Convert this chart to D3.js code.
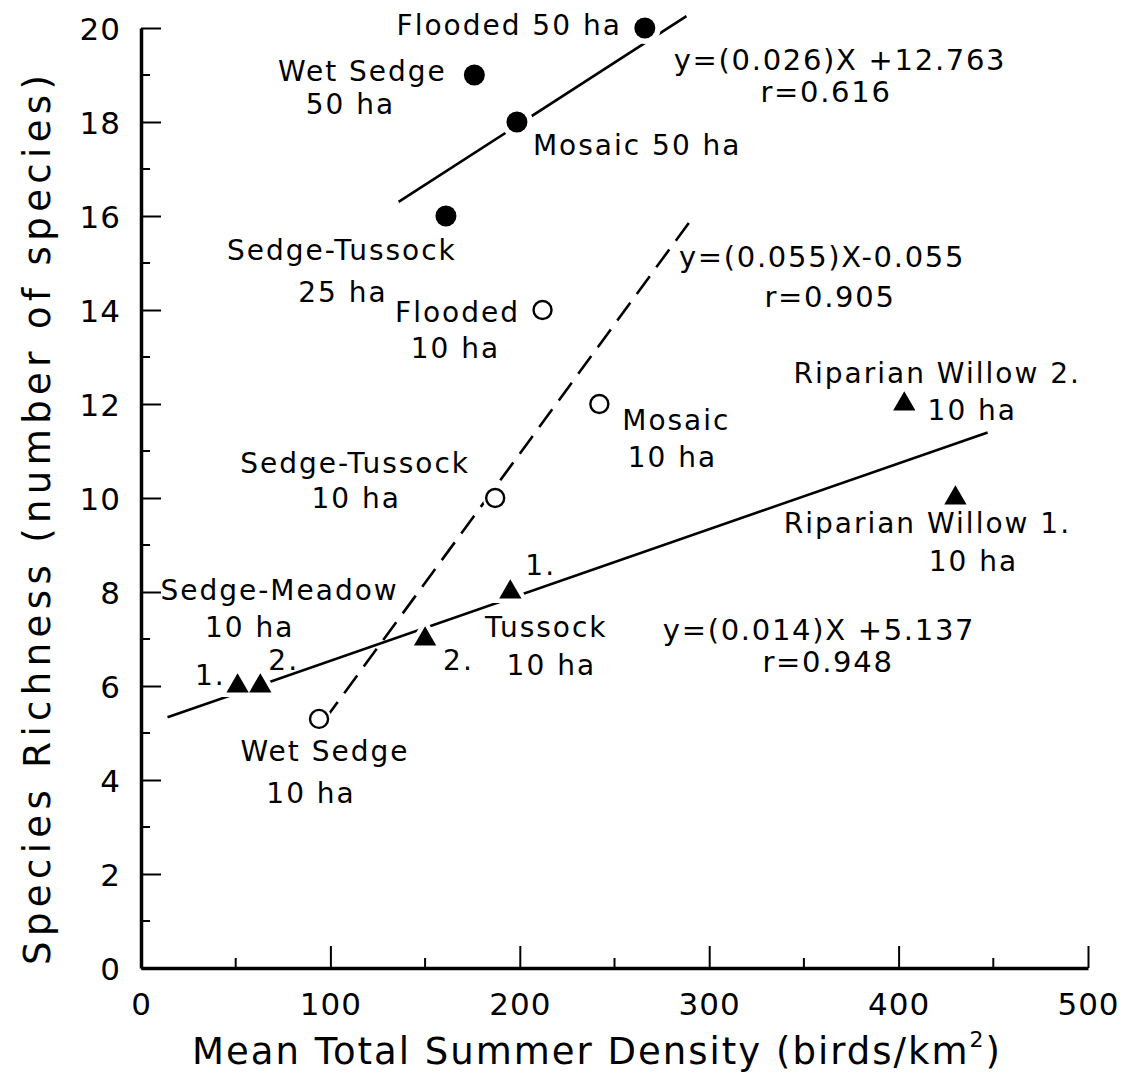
<!DOCTYPE html>
<html>
<head>
<meta charset="utf-8">
<script src="https://cdn.jsdelivr.net/npm/d3@7"></script>
<style>
  html, body { margin: 0; padding: 0; background: #fff; }
  svg { display: block; }
  text { font-family: "DejaVu Sans", sans-serif; fill: #000; }
</style>
</head>
<body>
<script>
// Study sites sampled at 50 ha (and one at 25 ha): filled circles
const largePlotSites = ["Flooded 50 ha", "Wet Sedge 50 ha", "Mosaic 50 ha", "Sedge-Tussock 25 ha"];
const largePlotDensity = [266, 176, 198.5, 161];
const largePlotRichness = [20, 19, 18, 16];

// Sites sampled at 10 ha: open circles
const smallPlotSites = ["Flooded 10 ha", "Mosaic 10 ha", "Sedge-Tussock 10 ha", "Wet Sedge 10 ha"];
const smallPlotDensity = [212, 242, 187, 94];
const smallPlotRichness = [14, 12, 10, 5.3];

// Paired 10 ha plots: filled triangles
const pairedSites = ["Sedge-Meadow 1", "Sedge-Meadow 2", "Tussock 2", "Tussock 1", "Riparian Willow 2", "Riparian Willow 1"];
const pairedDensity = [51, 63, 150, 195, 403, 430];
const pairedRichness = [6, 6, 7, 8, 12, 10];

// Regression fits, one per group
const fitSlopes = [0.026, 0.055, 0.014];
const fitIntercepts = [12.763, -0.055, 5.137];
const fitR = [0.616, 0.905, 0.948];
const fitXFrom = [136, 97, 14];
const fitXTo = [288, 292, 447];
const fitEquations = ["y=(0.026)X +12.763", "y=(0.055)X-0.055", "y=(0.014)X +5.137"];
const fitRLabels = ["r=0.616", "r=0.905", "r=0.948"];

// Axis ticks
const xMajorTicks = [0, 100, 200, 300, 400, 500];
const xMinorTicks = [50, 150, 250, 350, 450];
const yMajorTicks = [0, 2, 4, 6, 8, 10, 12, 14, 16, 18, 20];
const yMinorTicks = [1, 3, 5, 7, 9, 11, 13, 15, 17, 19];

const W = 1143, H = 1078;
const x = d3.scaleLinear().domain([0, 500]).range([141, 1088]);
const y = d3.scaleLinear().domain([0, 20]).range([968, 28]);

const svg = d3.select("body").append("svg").attr("width", W).attr("height", H);

// ---- axes ----
const xAxisG = svg.append("g").attr("transform", `translate(0,${y(0)})`);
xAxisG.call(d3.axisBottom(x).tickValues(xMajorTicks).tickSizeInner(-22).tickSizeOuter(0)
  .tickPadding(25).tickFormat(d3.format("d")));
xAxisG.call(g => g.selectAll(".minor").data(xMinorTicks).join("line").attr("class", "minor")
  .attr("x1", d => x(d)).attr("x2", d => x(d)).attr("y1", 0).attr("y2", -10)
  .attr("stroke", "#000").attr("stroke-width", 2));

const yAxisG = svg.append("g").attr("transform", `translate(${x(0)},0)`);
yAxisG.call(d3.axisLeft(y).tickValues(yMajorTicks).tickSizeInner(-20).tickSizeOuter(0)
  .tickPadding(20).tickFormat(d3.format("d")));
yAxisG.call(g => g.selectAll(".minor").data(yMinorTicks).join("line").attr("class", "minor")
  .attr("y1", d => y(d)).attr("y2", d => y(d)).attr("x1", 0).attr("x2", 9)
  .attr("stroke", "#000").attr("stroke-width", 2));

[xAxisG, yAxisG].forEach(g => {
  g.select(".domain").attr("stroke", "#000").attr("stroke-width", 3.5);
  g.selectAll(".tick line").attr("stroke", "#000").attr("stroke-width", 2);
  g.selectAll(".tick text").attr("font-size", 31).attr("font-family", "DejaVu Sans")
    .attr("fill", "#000").attr("letter-spacing", 1);
});
yAxisG.selectAll(".tick text").attr("dy", "0.36em");

// axis titles
const xTitle = svg.append("text").attr("x", 597).attr("y", 1064).attr("text-anchor", "middle")
  .attr("font-size", 37).attr("letter-spacing", 2);
xTitle.append("tspan").text("Mean Total Summer Density (birds/km");
xTitle.append("tspan").attr("font-size", 22).attr("dy", -17).text("2");
xTitle.append("tspan").attr("dy", 17).text(")");

svg.append("text").attr("transform", "translate(50,520) rotate(-90)")
  .attr("text-anchor", "middle").attr("font-size", 37)
  .attr("textLength", 890).attr("lengthAdjust", "spacing")
  .text("Species Richness (number of species)");

// ---- regression lines ----
const fits = fitSlopes.map((s, i) => ({ s, b: fitIntercepts[i], x0: fitXFrom[i], x1: fitXTo[i], dashed: i === 1 }));
const line = d3.line().x(d => x(d[0])).y(d => y(d[1]));
svg.append("g").selectAll("path").data(fits).join("path")
  .attr("d", f => line([[f.x0, f.s * f.x0 + f.b], [f.x1, f.s * f.x1 + f.b]]))
  .attr("fill", "none").attr("stroke", "#000").attr("stroke-width", 2.6)
  .attr("stroke-dasharray", f => f.dashed ? "22,11" : null);

// ---- markers (white halo breaks the fit lines around each point) ----
const large = largePlotSites.map((n, i) => ({ n, x: largePlotDensity[i], y: largePlotRichness[i] }));
const small = smallPlotSites.map((n, i) => ({ n, x: smallPlotDensity[i], y: smallPlotRichness[i] }));
const paired = pairedSites.map((n, i) => ({ n, x: pairedDensity[i], y: pairedRichness[i] }));

const marks = svg.append("g");
marks.selectAll("circle.halo-l").data(large).join("circle").attr("class", "halo-l")
  .attr("cx", d => x(d.x)).attr("cy", d => y(d.y)).attr("r", 16).attr("fill", "#fff");
marks.selectAll("circle.dot-l").data(large).join("circle").attr("class", "dot-l")
  .attr("cx", d => x(d.x)).attr("cy", d => y(d.y)).attr("r", 10.5).attr("fill", "#000");

marks.selectAll("circle.halo-s").data(small).join("circle").attr("class", "halo-s")
  .attr("cx", d => x(d.x)).attr("cy", d => y(d.y)).attr("r", 12.5).attr("fill", "#fff");
marks.selectAll("circle.dot-s").data(small).join("circle").attr("class", "dot-s")
  .attr("cx", d => x(d.x)).attr("cy", d => y(d.y)).attr("r", 9)
  .attr("fill", "#fff").attr("stroke", "#000").attr("stroke-width", 2.4);

const tri = d3.symbol().type(d3.symbolTriangle).size(215);
marks.selectAll("path.halo-t").data(paired).join("path").attr("class", "halo-t")
  .attr("transform", d => `translate(${x(d.x)},${y(d.y)})`).attr("d", tri)
  .attr("fill", "#fff").attr("stroke", "#fff").attr("stroke-width", 9);
marks.selectAll("path.dot-t").data(paired).join("path").attr("class", "dot-t")
  .attr("transform", d => `translate(${x(d.x)},${y(d.y)})`).attr("d", tri)
  .attr("fill", "#000");

// ---- point labels: pixel offsets from each marker ----
const labelLayout = {
  "Flooded 50 ha": [["Flooded 50 ha", -23, 7, "end"]],
  "Wet Sedge 50 ha": [["Wet Sedge", -112, 6, "middle"], ["50 ha", -124, 39, "middle"]],
  "Mosaic 50 ha": [["Mosaic 50 ha", 16, 33, "start"]],
  "Sedge-Tussock 25 ha": [["Sedge-Tussock", -104, 44, "middle"], ["25 ha", -103, 86, "middle"]],
  "Flooded 10 ha": [["Flooded", -85, 12, "middle"], ["10 ha", -87, 48, "middle"]],
  "Mosaic 10 ha": [["Mosaic", 77, 26, "middle"], ["10 ha", 73, 63, "middle"]],
  "Sedge-Tussock 10 ha": [["Sedge-Tussock", -140, -25, "middle"], ["10 ha", -139, 10, "middle"]],
  "Wet Sedge 10 ha": [["Wet Sedge", 6, 42, "middle"], ["10 ha", -8, 84, "middle"]],
  "Sedge-Meadow 1": [["1.", -12, -1, "end"], ["Sedge-Meadow", 42, -86, "middle"], ["10 ha", 12, -49, "middle"]],
  "Sedge-Meadow 2": [["2.", 8, -16, "start"]],
  "Tussock 2": [["2.", 18, 31, "start"]],
  "Tussock 1": [["1.", 15, -17, "start"], ["Tussock", 36, 45, "middle"], ["10 ha", 41, 83, "middle"]],
  "Riparian Willow 2": [["Riparian Willow 2.", 33, -21, "middle"], ["10 ha", 68, 16, "middle"]],
  "Riparian Willow 1": [["Riparian Willow 1.", -28, 35, "middle"], ["10 ha", 18, 73, "middle"]]
};

const labelRows = [...large, ...small, ...paired].flatMap(d =>
  (labelLayout[d.n] || []).map(([t, dx, dy, anchor]) => ({ t, px: x(d.x) + dx, py: y(d.y) + dy, anchor })));
svg.append("g").selectAll("text").data(labelRows).join("text")
  .attr("x", d => d.px).attr("y", d => d.py).attr("text-anchor", d => d.anchor)
  .attr("font-size", 28).attr("letter-spacing", 2).text(d => d.t);

// ---- regression equations ----
const eqPos = [[840, 70, 826, 102], [822, 267, 830, 307], [819, 640, 828, 672]];
const eqG = svg.append("g").attr("font-size", 29).attr("letter-spacing", 1.7).attr("text-anchor", "middle");
fitEquations.forEach((e, i) => {
  eqG.append("text").attr("x", eqPos[i][0]).attr("y", eqPos[i][1]).text(e);
  eqG.append("text").attr("x", eqPos[i][2]).attr("y", eqPos[i][3]).text(fitRLabels[i]);
});
</script>
</body>
</html>
